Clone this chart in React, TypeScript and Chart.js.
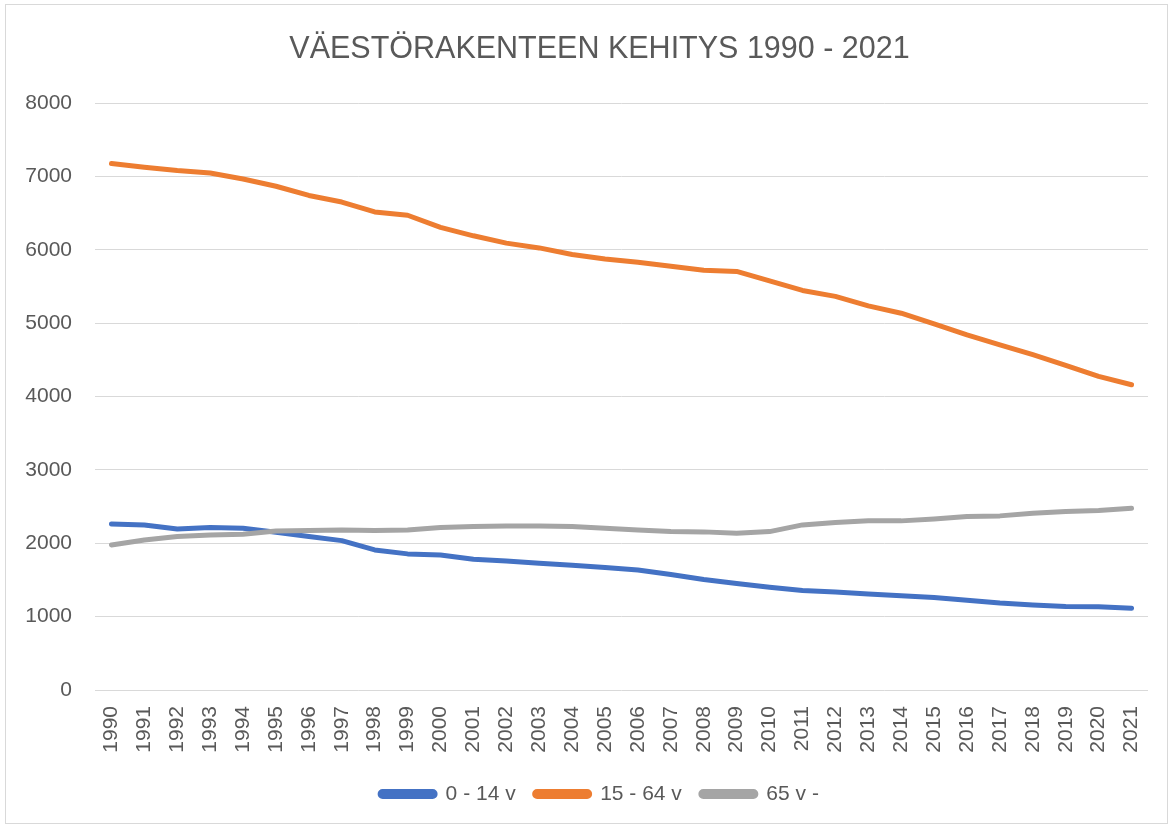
import React, { useEffect, useRef } from "react";
import { Chart, registerables } from "chart.js";

Chart.register(...registerables);

const titleText = "VÄESTÖRAKENTEEN KEHITYS 1990 - 2021";

const years = [
  "1990", "1991", "1992", "1993", "1994", "1995", "1996", "1997",
  "1998", "1999", "2000", "2001", "2002", "2003", "2004", "2005",
  "2006", "2007", "2008", "2009", "2010", "2011", "2012", "2013",
  "2014", "2015", "2016", "2017", "2018", "2019", "2020", "2021",
];

const seriesNames = ["0 - 14 v", "15 - 64 v", "65 v -"];

const age0to14 = [
  2264, 2250, 2195, 2214, 2205, 2150, 2091, 2036, 1909, 1855, 1841, 1782,
  1759, 1727, 1700, 1668, 1636, 1575, 1505, 1450, 1400, 1355, 1335, 1309,
  1285, 1262, 1222, 1185, 1160, 1138, 1136, 1114,
];

const age15to64 = [
  7175, 7125, 7080, 7045, 6965, 6865, 6740, 6650, 6515, 6470, 6305, 6190,
  6090, 6025, 5935, 5875, 5830, 5775, 5720, 5705, 5575, 5445, 5365, 5235,
  5135, 4990, 4840, 4705, 4570, 4425, 4275, 4160,
];

const age65plus = [
  1977, 2045, 2091, 2114, 2123, 2168, 2173, 2182, 2173, 2182, 2214, 2227,
  2236, 2236, 2227, 2205, 2182, 2159, 2155, 2136, 2159, 2250, 2282, 2305,
  2305, 2332, 2364, 2373, 2409, 2432, 2445, 2477,
];

const colors = ["#4472C4", "#ED7D31", "#A5A5A5"];

// lets the y tick labels extend left of the (narrow) y-axis box without clipping
const widenYLabelArea = {
  id: "widenYLabelArea",
  afterLayout(chart: any) {
    const y = chart.scales.y;
    if (y) y.left = 0;
  },
};

export default function App() {
  const ref = useRef<HTMLCanvasElement>(null);

  useEffect(() => {
    const family = "'Liberation Sans', Arial, sans-serif";
    const textColor = "#595959";
    const values = [age0to14, age15to64, age65plus];
    const chart = new Chart(ref.current as HTMLCanvasElement, {
      type: "line",
      data: {
        labels: years,
        datasets: values.map((v, i) => ({
          label: seriesNames[i],
          data: v,
          borderColor: colors[i],
          backgroundColor: colors[i],
          borderWidth: 5,
          pointRadius: 0,
          pointHoverRadius: 0,
          tension: 0,
          borderCapStyle: "round" as const,
          borderJoinStyle: "round" as const,
          fill: false,
          order: 3 - i,
        })),
      },
      plugins: [widenYLabelArea],
      options: {
        responsive: false,
        animation: false,
        layout: { padding: { left: 43, right: 17, top: 10, bottom: 13.5 } },
        plugins: {
          title: {
            display: true,
            text: titleText,
            color: textColor,
            font: { family, size: 30.5, weight: "normal" },
            padding: { top: 21, bottom: 35.4 },
          },
          legend: {
            position: "bottom",
            labels: {
              boxWidth: 55,
              boxHeight: 5,
              padding: 19,
              color: textColor,
              font: { family, size: 21 },
              useBorderRadius: true,
              borderRadius: 2.5,
              sort: (a: any, b: any) => a.datasetIndex - b.datasetIndex,
            },
          },
          tooltip: { enabled: false },
        },
        scales: {
          x: {
            offset: true,
            grid: { display: false, drawTicks: false },
            border: { display: false },
            ticks: {
              autoSkip: false,
              minRotation: 90,
              maxRotation: 90,
              padding: 16,
              color: textColor,
              font: { family, size: 21 },
            },
            afterFit: (scale: any) => {
              scale.height = 74.5;
            },
          },
          y: {
            min: 0,
            max: 8000,
            grid: { color: "#d9d9d9", lineWidth: 1, drawTicks: false },
            border: { display: false },
            ticks: {
              stepSize: 1000,
              padding: 23,
              color: textColor,
              font: { family, size: 21 },
              callback: (value: any) => String(value),
            },
            afterFit: (scale: any) => {
              scale.width = 52;
            },
          },
        },
      },
    });
    return () => chart.destroy();
  }, []);

  return (
    <div
      style={{
        position: "fixed",
        left: 0,
        top: 0,
        width: 1173,
        height: 828,
        background: "#ffffff",
      }}
    >
      <div
        style={{
          position: "absolute",
          left: 5,
          top: 4,
          width: 1163,
          height: 820,
          border: "1px solid #d9d9d9",
          boxSizing: "border-box",
        }}
      />
      <canvas
        ref={ref}
        width={1173}
        height={828}
        style={{ position: "absolute", left: 0, top: 0 }}
      />
    </div>
  );
}
